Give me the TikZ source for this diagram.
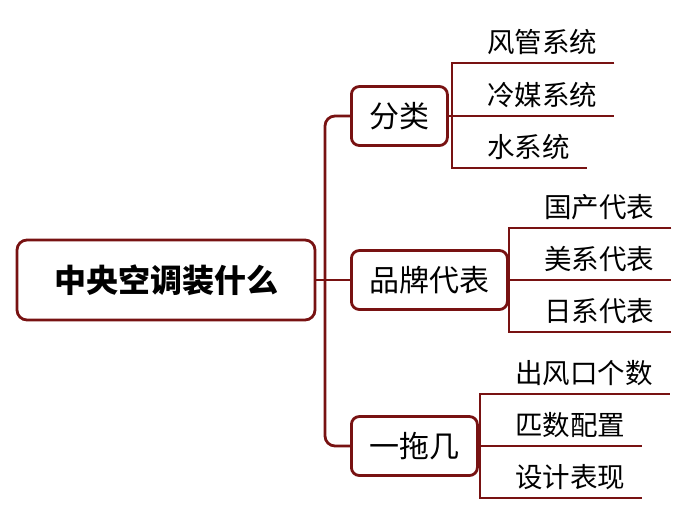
\documentclass[tikz,border=0pt]{standalone}
\usepackage{fontspec}
\setmainfont{Noto Sans CJK SC}
\definecolor{mapred}{RGB}{120,18,18}
\tikzset{
  link/.style={draw=mapred, line width=2.8pt},
  rootbox/.style={draw=mapred, line width=2.8pt, rounded corners=10pt, minimum height=80pt, inner xsep=37pt, font=\fontsize{32}{36}\selectfont\bfseries},
  branchbox/.style={draw=mapred, line width=2.8pt, rounded corners=8pt, minimum height=59pt, inner xsep=18pt, anchor=west, font=\fontsize{30}{34}\selectfont},
  leaf/.style={anchor=south west, inner xsep=0pt, inner ysep=10pt, text depth=0pt, font=\fontsize{27.5}{32}\selectfont,
    execute at begin node=\hspace*{35pt}, execute at end node=\hspace*{17pt}}
}
\begin{document}
\begin{tikzpicture}[x=1pt, y=-1pt]
        \useasboundingbox (0,0) rectangle (688,515);
        % Nodes
        \node (root) [rootbox] at (166,280) {中央空调装什么};
        \node (fl) [branchbox] at (350,116) {分类};
        \node (pp) [branchbox] at (350,280) {品牌代表};
        \node (yt) [branchbox] at (350,446) {一拖几};
        \coordinate (trunk) at (325,280);

        \node (fl1) [leaf] at (452,63) {风管系统};
        \node (fl2) [leaf] at (452,116) {冷媒系统};
        \node (fl3) [leaf] at (452,168) {水系统};
        \node (pp1) [leaf] at (509,228) {国产代表};
        \node (pp2) [leaf] at (509,280) {美系代表};
        \node (pp3) [leaf] at (509,332) {日系代表};
        \node (yt1) [leaf] at (480,394) {出风口个数};
        \node (yt2) [leaf] at (480,446) {匹数配置};
        \node (yt3) [leaf] at (480,498) {设计表现};

        % Edges
        \draw[link] (root.east) -- (pp.west);
        \draw[link, rounded corners=10pt] (trunk) |- (fl.west);
        \draw[link, rounded corners=10pt] (trunk) |- (yt.west);

        \draw[link] (fl.east) -- (fl2.south east);
        \draw[link] (fl1.south east) -- (fl1.south west) -- (fl3.south west) -- (fl3.south east);
        \draw[link] (pp.east) -- (pp2.south east);
        \draw[link] (pp1.south east) -- (pp1.south west) -- (pp3.south west) -- (pp3.south east);
        \draw[link] (yt.east) -- (yt2.south east);
        \draw[link] (yt1.south east) -- (yt1.south west) -- (yt3.south west) -- (yt3.south east);
    \end{tikzpicture}
\end{document}
